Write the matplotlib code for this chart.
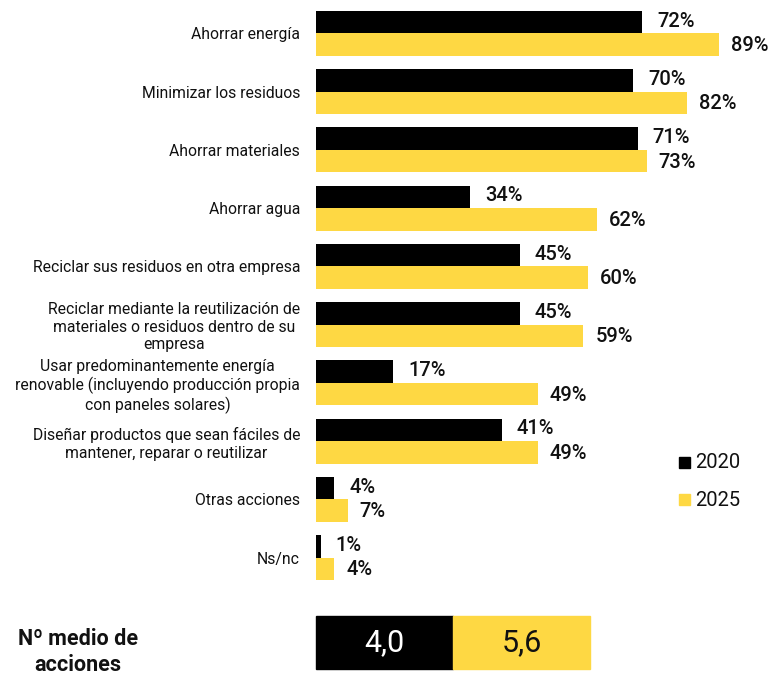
import matplotlib
matplotlib.use("Agg")
import matplotlib.pyplot as plt
from matplotlib.patches import Rectangle
import numpy as np

plt.rcParams['font.family'] = ['Roboto', 'DejaVu Sans']

categories = [
    "Ahorrar energía",
    "Minimizar los residuos",
    "Ahorrar materiales",
    "Ahorrar agua",
    "Reciclar sus residuos en otra empresa",
    "Reciclar mediante la reutilización de\nmateriales o residuos dentro de su\nempresa",
    "Usar predominantemente energía\nrenovable (incluyendo producción propia\ncon paneles solares)",
    "Diseñar productos que sean fáciles de\nmantener, reparar o reutilizar",
    "Otras acciones",
    "Ns/nc",
]
values_2020 = [72, 70, 71, 34, 45, 45, 17, 41, 4, 1]
values_2025 = [89, 82, 73, 62, 60, 59, 49, 49, 7, 4]
series_names = ["2020", "2025"]
avg_label = "Nº medio de\nacciones"
avg_actions = [4.0, 5.6]

BLACK = "#000000"
YELLOW = "#FED843"

W, H = 773, 677
fig = plt.figure(figsize=(W / 100, H / 100), dpi=100)

# main axes in pixel geometry
left_px, top_px, bottom_px = 316, 10, 581
ax_w_px = 453  # 100% -> 453 px
ax = fig.add_axes([left_px / W, 1 - bottom_px / H, ax_w_px / W, (bottom_px - top_px) / H])

n = len(categories)
y = np.arange(n)
h = 0.385
ax.barh(y - h / 2, values_2020, height=h, color=BLACK, label=series_names[0])
ax.barh(y + h / 2, values_2025, height=h, color=YELLOW, label=series_names[1])
ax.set_xlim(0, 100)
ax.set_ylim(n - 1 + 0.4, -0.4)

for i in range(n):
    ax.annotate(f"{values_2020[i]}%", (values_2020[i], y[i] - h / 2), xytext=(15, 1),
                textcoords="offset pixels",
                ha="left", va="center", fontsize=14.5, fontweight="medium", color="#111111")
    ax.annotate(f"{values_2025[i]}%", (values_2025[i], y[i] + h / 2), xytext=(12, -1),
                textcoords="offset pixels",
                ha="left", va="center", fontsize=14.5, fontweight="medium", color="#111111")

ax.set_yticks(y)
ax.set_yticklabels(categories, fontsize=11.3, color="#111111", linespacing=1.2)
for lbl in ax.get_yticklabels():
    lbl.set_multialignment("center")
ax.tick_params(axis="y", length=0, pad=11.5)
ax.set_xticks([])
for s in ax.spines.values():
    s.set_visible(False)

# legend
leg_y = [463, 500]
for col, name, yy in zip([BLACK, YELLOW], series_names, leg_y):
    fig.patches.append(Rectangle((679 / W, 1 - (yy + 5) / H), 11 / W, 11 / H,
                                 transform=fig.transFigure, color=col))
    fig.text(695 / W, 1 - yy / H, name, fontsize=14.5, va="center", ha="left", color="#111111")

# bottom average box
box_top, box_bot = 616, 669
box_x = [316, 453]
box_w = 137
box_cols = [BLACK, YELLOW]
txt_cols = ["white", "#111111"]
for x0, col, tc, v in zip(box_x, box_cols, txt_cols, avg_actions):
    fig.patches.append(Rectangle((x0 / W, 1 - box_bot / H), box_w / W, (box_bot - box_top) / H,
                                 transform=fig.transFigure, color=col))
    fig.text((x0 + box_w / 2) / W, 1 - (box_top + box_bot) / 2 / H,
             f"{v:.1f}".replace(".", ","), fontsize=22,
             color=tc, ha="center", va="center")

fig.text(78 / W, 1 - 652 / H, avg_label, fontsize=15.5, fontweight="bold", ha="center",
         va="center", multialignment="center", linespacing=1.2, color="#111111")

fig.savefig("out.png", dpi=100)
